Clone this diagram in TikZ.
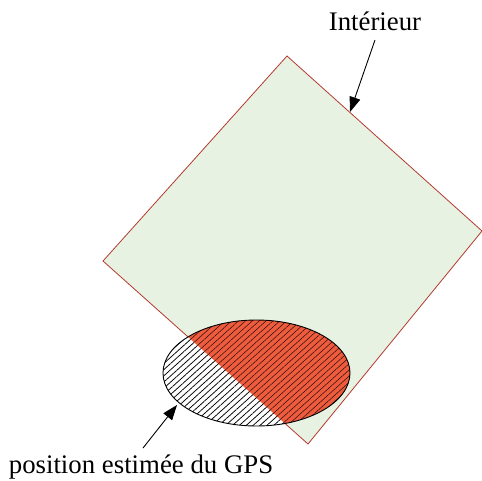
\documentclass[tikz,border=0pt]{standalone}
\usepackage{fontspec}
\setmainfont{Liberation Serif}
\usetikzlibrary{patterns.meta,arrows.meta}
\definecolor{zonegreen}{HTML}{E8F2E3}
\definecolor{zoneedge}{HTML}{B23A2E}
\definecolor{gpsred}{HTML}{EE5B3D}
\tikzset{
  lbl/.style={font=\fontsize{26.8}{30}\selectfont, inner sep=0pt, anchor=base},
  pointer/.style={line width=0.9pt, -{Triangle[length=15pt,width=11pt]}},
  hatch/.style={pattern={Lines[angle=42,distance=4.6pt,line width=0.75pt]}, pattern color=black},
  hatchred/.style={pattern={Lines[angle=42,distance=4.6pt,line width=0.5pt]}, pattern color=black!85!gpsred}
}
\begin{document}
\begin{tikzpicture}[x=1pt,y=-1pt]
\useasboundingbox (0,0) rectangle (482,480);
% interior zone
\coordinate (T) at (287,56);
\coordinate (R) at (482,231);
\coordinate (B) at (308,444);
\coordinate (L) at (103,261);
\fill[zonegreen] (T) -- (R) -- (B) -- (L) -- cycle;
\draw[zoneedge, line width=0.8pt] (T) -- (R) -- (B) -- (L) -- cycle;
% GPS ellipse
\coordinate (E) at (256.5,373);
\fill[white] (E) ellipse [x radius=93.5, y radius=53];
\fill[hatch] (E) ellipse [x radius=93.5, y radius=53];
\begin{scope}
  \clip (T) -- (R) -- (B) -- (L) -- cycle;
  \fill[gpsred] (E) ellipse [x radius=93.5, y radius=53];
  \fill[hatchred] (E) ellipse [x radius=93.5, y radius=53];
\end{scope}
\draw[line width=0.9pt] (E) ellipse [x radius=93.5, y radius=53];
% labels
\node[lbl] (int) at (375,30) {Intérieur};
\node[lbl] (gps) at (141,473) {position estimée du GPS};
\coordinate (intTip) at (350,112);
\coordinate (gpsTip) at (177,405);
\coordinate (intStart) at (375,40);
\coordinate (gpsStart) at (143,448);
\draw[pointer] (intStart) -- (intTip);
\draw[pointer] (gpsStart) -- (gpsTip);
\end{tikzpicture}
\end{document}
